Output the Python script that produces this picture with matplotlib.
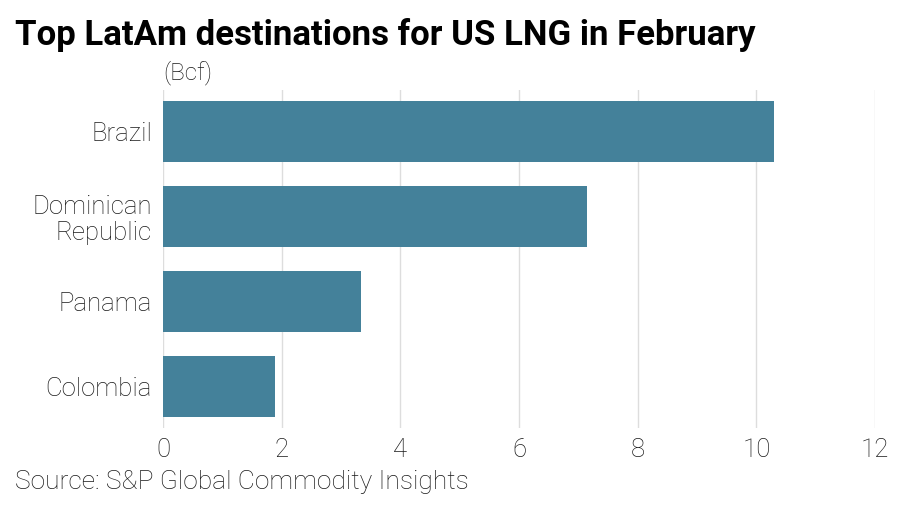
import matplotlib.pyplot as plt

plt.rcParams['font.family'] = ['Roboto', 'DejaVu Sans']

# Data (Bcf)
countries = ['Brazil', 'Dominican\nRepublic', 'Panama', 'Colombia']
volumes = [10.3, 7.15, 3.33, 1.89]
xticks = [0, 2, 4, 6, 8, 10, 12]

fig = plt.figure(figsize=(9.1, 5.18), dpi=100)
ax = fig.add_axes([163 / 910, 1 - 428 / 518, (875 - 163) / 910, (428 - 90) / 518])

ax.barh(range(len(countries)), volumes, height=0.72, color='#44819A', zorder=3)

ax.set_xlim(0, 12)
ax.set_ylim(3.49, -0.49)
ax.set_xticks(xticks)
ax.set_xticklabels([str(t) for t in xticks])
ax.set_yticks(range(len(countries)))
ax.set_yticklabels(countries, linespacing=1.1)
ax.tick_params(axis='y', length=0, labelsize=18.5, colors='#1a1a1a', pad=8)
ax.tick_params(axis='x', length=0, labelsize=18.5, colors='#1a1a1a', pad=7)
for lab in ax.get_xticklabels() + ax.get_yticklabels():
    lab.set_fontweight('light')

ax.grid(axis='x', color='#dddddd', linewidth=1, zorder=0)
for s in ax.spines.values():
    s.set_visible(False)

fig.text(15 / 910, 1 - 35 / 518, 'Top LatAm destinations for US LNG in February',
         fontsize=25, fontweight='bold', va='center', ha='left', color='#000000')
fig.text(163 / 910, 1 - 73 / 518, '(Bcf)', fontsize=17.5, fontweight='light',
         va='center', ha='left', color='#1a1a1a')
fig.text(15 / 910, 1 - 482 / 518, 'Source: S&P Global Commodity Insights', fontsize=19,
         fontweight='light', va='center', ha='left', color='#1a1a1a')

fig.savefig('out.png', dpi=100)
